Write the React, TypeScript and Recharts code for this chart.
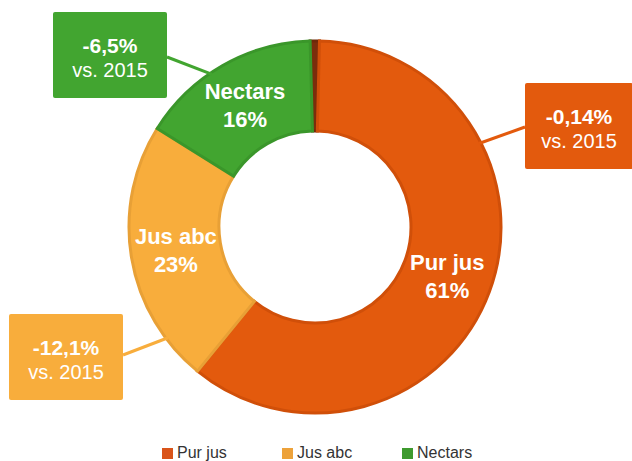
import React from 'react';
import { PieChart, Pie, Cell, Legend } from 'recharts';

// Parts de marché par segment (valeurs en %)
const CATEGORIES = ['Autres', 'Pur jus', 'Jus abc', 'Nectars'];
const SHARES = [0.8, 60.5, 23.0, 15.7];
const SHARE_LABELS = ['', '61%', '23%', '16%'];
const EVOLUTIONS = ['', '-0,14%', '-12,1%', '-6,5%'];
const EVOLUTION_REF = 'vs. 2015';
const LEGEND_ITEMS = ['Pur jus', 'Jus abc', 'Nectars'];

const FILL: Record<string, string> = {
    'Autres': '#7a2d0c',
    'Pur jus': '#e35a0d',
    'Jus abc': '#f8ad3c',
    'Nectars': '#42a530',
};

const BORDER: Record<string, string> = {
    'Autres': '#6e280a',
    'Pur jus': '#d04f09',
    'Jus abc': '#e8a036',
    'Nectars': '#3a962a',
};

const LEGEND_COLORS: Record<string, string> = {
    'Pur jus': '#d9541a',
    'Jus abc': '#eda23a',
    'Nectars': '#3e9a2f',
};

// callout boxes: anchor angle (clockwise from top) + box placement
const CALLOUTS: Record<string, { angle: number; x: number; y: number; w: number; h: number; ax: number; ay: number }> = {
    'Pur jus': { angle: 63, x: 525, y: 83, w: 108, h: 86, ax: 525, ay: 127 },
    'Jus abc': { angle: 233, x: 9, y: 314, w: 114, h: 86, ax: 123, ay: 355 },
    'Nectars': { angle: 326, x: 53, y: 12, w: 114, h: 86, ax: 167, ay: 57 },
};

const FONT = '"Liberation Sans", Arial, sans-serif';
const RAD = Math.PI / 180;

const data = CATEGORIES.map((name, i) => ({
    name,
    value: SHARES[i],
    share: SHARE_LABELS[i],
    evolution: EVOLUTIONS[i],
}));

function renderLabel(props: any) {
    const { cx, cy, midAngle, innerRadius, outerRadius, index } = props;
    const entry = data[index];
    if (!entry.share) return null;
    const r = (innerRadius + outerRadius) / 2;
    const x = cx + r * Math.cos(-midAngle * RAD);
    const y = cy + r * Math.sin(-midAngle * RAD);
    const c = CALLOUTS[entry.name];
    let callout = null;
    if (c) {
        const a = c.angle * RAD;
        const px = cx + (outerRadius - 2) * Math.sin(a);
        const py = cy - (outerRadius - 2) * Math.cos(a);
        const color = FILL[entry.name];
        callout = (
            <g>
                <line x1={px} y1={py} x2={c.ax} y2={c.ay} stroke={color} strokeWidth={3} />
                <rect x={c.x} y={c.y} width={c.w} height={c.h} rx={2} fill={color} />
                <text x={c.x + c.w / 2} y={c.y + 41} textAnchor="middle" fill="#fff"
                    fontFamily={FONT} fontSize={21} fontWeight="bold">
                    {entry.evolution}
                </text>
                <text x={c.x + c.w / 2} y={c.y + 65} textAnchor="middle" fill="#fff"
                    fontFamily={FONT} fontSize={20}>
                    {EVOLUTION_REF}
                </text>
            </g>
        );
    }
    return (
        <g key={`label-${index}`}>
            {callout}
            <text x={x} y={y - 6} textAnchor="middle" fill="#fff" fontFamily={FONT}
                fontSize={22} fontWeight="bold">
                {entry.name}
            </text>
            <text x={x} y={y + 22} textAnchor="middle" fill="#fff" fontFamily={FONT}
                fontSize={22} fontWeight="bold">
                {entry.share}
            </text>
        </g>
    );
}

function LegendContent() {
    return (
        <div style={{ position: 'relative', width: 632, height: 20, fontFamily: FONT, fontSize: 16, color: '#333' }}>
            {LEGEND_ITEMS.map((name, i) => (
                <div key={name} style={{ position: 'absolute', left: 162 + i * 120, top: 0, display: 'flex', alignItems: 'center', whiteSpace: 'nowrap' }}>
                    <span style={{ display: 'inline-block', width: 11, height: 11, background: LEGEND_COLORS[name], marginRight: 4 }} />
                    <span>{name}</span>
                </div>
            ))}
        </div>
    );
}

export default function App() {
    return (
        <div style={{ position: 'absolute', left: 0, top: 0, width: 632, height: 461, overflow: 'hidden', background: '#fff' }}>
            <PieChart width={632} height={461} margin={{ top: 0, right: 0, bottom: 0, left: 0 }}>
                <Pie
                    data={data}
                    dataKey="value"
                    nameKey="name"
                    cx={315}
                    cy={227}
                    innerRadius={96}
                    outerRadius={186}
                    startAngle={91.5}
                    endAngle={-268.5}
                    labelLine={false}
                    label={renderLabel}
                    isAnimationActive={false}
                >
                    {data.map((entry) => (
                        <Cell key={entry.name} fill={FILL[entry.name]} stroke={BORDER[entry.name]} strokeWidth={3} />
                    ))}
                </Pie>
                <Legend
                    content={<LegendContent />}
                    wrapperStyle={{ position: 'absolute', left: 0, top: 444, width: 632, height: 20 }}
                />
            </PieChart>
        </div>
    );
}
